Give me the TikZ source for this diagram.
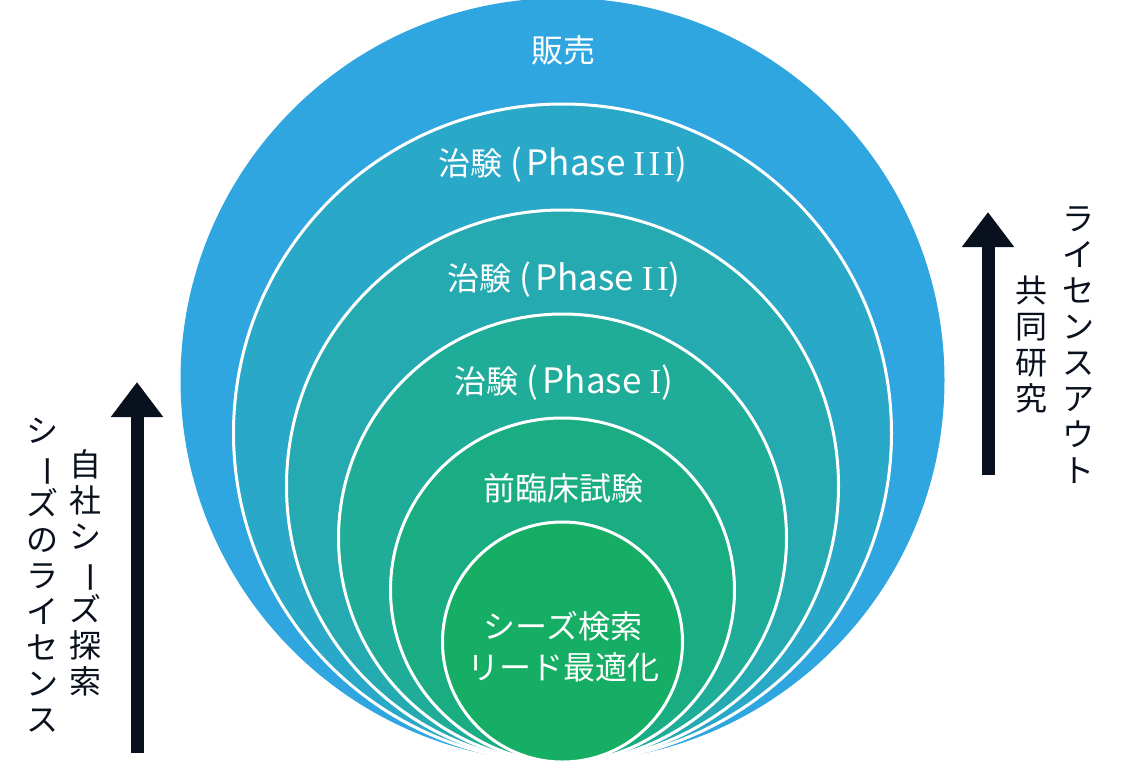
\documentclass[tikz,border=0pt]{standalone}
\usepackage{fontspec}
\setmainfont{Noto Sans CJK JP}
\newfontfamily\romnum[LetterSpace=10]{Liberation Serif}
\usetikzlibrary{arrows.meta,positioning}
\definecolor{stage1}{RGB}{47,166,224}
\definecolor{stage2}{RGB}{42,168,200}
\definecolor{stage3}{RGB}{37,170,177}
\definecolor{stage4}{RGB}{31,172,152}
\definecolor{stage5}{RGB}{27,173,130}
\definecolor{stage6}{RGB}{22,174,100}
\definecolor{ink}{RGB}{9,17,30}
\newcommand{\vchoon}{\rotatebox[origin=c]{-90}{ー}}
\newcommand{\trial}[1]{治験{\fontsize{35}{41}\selectfont\hspace{8pt}(\hspace{4pt}Phase\ {\romnum #1})}}

\begin{document}
\begin{tikzpicture}[x=1pt,y=-1pt,
  every node/.style={inner sep=0pt},
  ring/.style={circle,draw=white,line width=3pt},
  lbl/.style={text=white,font=\fontsize{32}{41}\selectfont,align=center},
  vtext/.style={text=ink,font=\fontsize{32}{36}\selectfont,align=center},
  uparr/.style={-{Triangle[width=50pt,length=35pt]},line width=13pt,draw=ink}]
\useasboundingbox (0,0) rectangle (1125,769);
% nested stages, all touching at the bottom
\node[circle,fill=stage1,minimum size=764pt] (sales) at (562.5,380) {};
\node[ring,fill=stage2,minimum size=658pt] (phase3) at (562.5,433) {};
\node[ring,fill=stage3,minimum size=552pt] (phase2) at (562.5,486) {};
\node[ring,fill=stage4,minimum size=448pt] (phase1) at (562.5,538) {};
\node[ring,fill=stage5,minimum size=344pt] (preclin) at (562.5,590) {};
\node[ring,fill=stage6,minimum size=240pt] (seeds) at (562.5,642) {};

\node[lbl] (salestxt) at (563,50) {販売};
\node[lbl] (phase3txt) at (563,165) {\trial{III}};
\node[lbl] (phase2txt) at (564,280) {\trial{II}};
\node[lbl] (phase1txt) at (564,383) {\trial{I}};
\node[lbl] (preclintxt) at (563,488) {前臨床試験};
\node[lbl] (seedstxt) at (563,647) {シーズ検索\\リード最適化};

% left side
\coordinate (lfoot) at (137,753);
\coordinate (ltip) at (137,382);
\draw[uparr] (lfoot) -- (ltip);
\node[vtext] (license) at (42,575) {シ\\\vchoon\\ズ\\の\\ラ\\イ\\セ\\ン\\ス};
\node[vtext] (ownseed) at (85,573) {自\\社\\シ\\\vchoon\\ズ\\探\\索};

% right side
\coordinate (rfoot) at (988,475);
\coordinate (rtip) at (988,212);
\draw[uparr] (rfoot) -- (rtip);
\node[vtext] (joint) at (1031,345) {共\\同\\研\\究};
\node[vtext] (licout) at (1078,345) {ラ\\イ\\セ\\ン\\ス\\ア\\ウ\\ト};
\end{tikzpicture}
\end{document}
